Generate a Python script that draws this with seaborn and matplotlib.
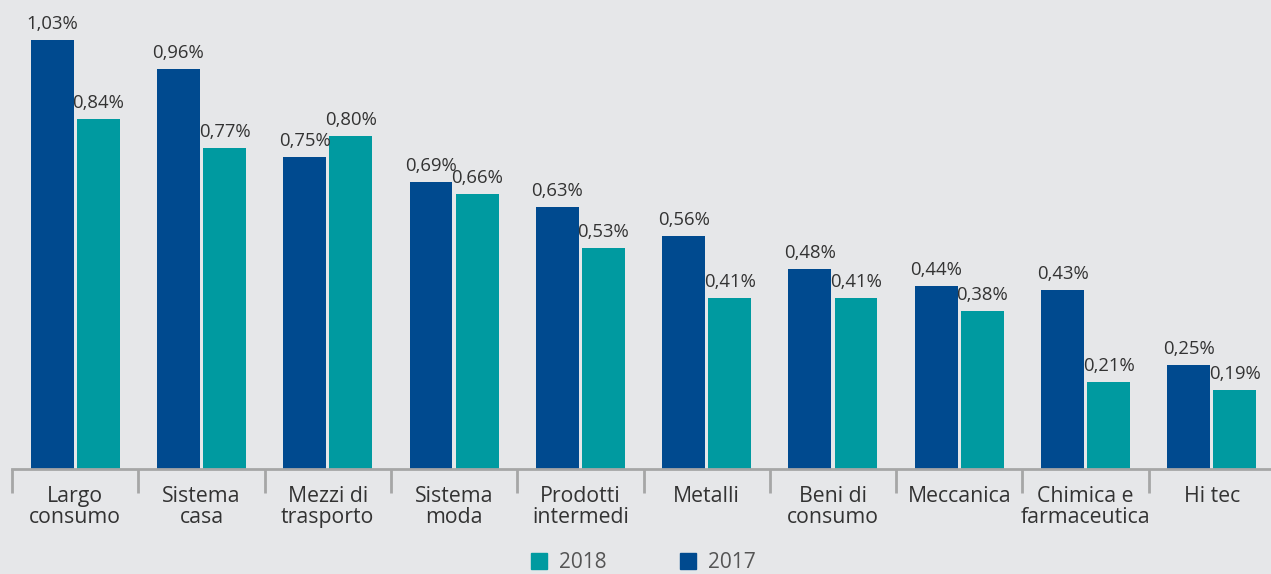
import matplotlib
matplotlib.use("Agg")
import matplotlib.pyplot as plt
import seaborn as sns
import pandas as pd
import numpy as np
from matplotlib.lines import Line2D

categories = ["Largo\nconsumo", "Sistema\ncasa", "Mezzi di\ntrasporto", "Sistema\nmoda",
              "Prodotti\nintermedi", "Metalli", "Beni di\nconsumo", "Meccanica",
              "Chimica e\nfarmaceutica", "Hi tec"]
values_2017 = [1.03, 0.96, 0.75, 0.69, 0.63, 0.56, 0.48, 0.44, 0.43, 0.25]
values_2018 = [0.84, 0.77, 0.80, 0.66, 0.53, 0.41, 0.41, 0.38, 0.21, 0.19]
years = ["2017", "2018"]

BLUE = "#004a8f"
TEAL = "#009aa0"
BG = "#e6e7e9"
AXIS = "#a6a6a6"

df = pd.DataFrame({
    "category": categories * 2,
    "value": values_2017 + values_2018,
    "year": [years[0]] * len(categories) + [years[1]] * len(categories),
})

sns.set_theme(style="white")
plt.rcParams["font.family"] = ["Open Sans", "DejaVu Sans"]

fig = plt.figure(figsize=(12.71, 5.74), dpi=100, facecolor=BG)
ax = fig.add_axes([12 / 1271, 105 / 574, 1263 / 1271, 469 / 574])
ax.set_facecolor(BG)

sns.barplot(data=df, x="category", y="value", hue="year", order=categories,
            hue_order=years, palette={"2017": BLUE, "2018": TEAL},
            width=0.73, gap=0.068, saturation=1, legend=False, ax=ax,
            errorbar=None, linewidth=0, edgecolor="none")

for cont in ax.containers:
    labels = [f"{b.get_height():.2f}%".replace(".", ",") for b in cont]
    ax.bar_label(cont, labels=labels, padding=5, fontsize=13.3, color="#333333")

ax.set_xlim(-0.5, len(categories) - 0.5)
ax.set_ylim(0, 469 / 416.5)
ax.set_xlabel("")
ax.set_ylabel("")
ax.set_yticks([])
for s in ["top", "right", "left"]:
    ax.spines[s].set_visible(False)
ax.spines["bottom"].set_color(AXIS)
ax.spines["bottom"].set_linewidth(2)

ax.set_xticks(np.arange(len(categories)))
ax.set_xticklabels(categories, fontsize=15.3, color="#333333", linespacing=1.02)
ax.tick_params(axis="x", which="major", length=0, pad=12, bottom=True)
ax.set_xticks(np.arange(len(categories) + 1) - 0.5, minor=True)
ax.tick_params(axis="x", which="minor", length=17, width=2, color=AXIS,
               direction="out", bottom=True)

handles = [Line2D([0], [0], marker="s", linestyle="none", markersize=11,
                  markerfacecolor=TEAL, markeredgecolor=TEAL),
           Line2D([0], [0], marker="s", linestyle="none", markersize=11,
                  markerfacecolor=BLUE, markeredgecolor=BLUE)]
leg = fig.legend(handles, ["2018", "2017"], loc="center", ncol=2,
                 bbox_to_anchor=(642 / 1271, 1 - 563 / 574), frameon=False,
                 fontsize=15, handletextpad=0.45, columnspacing=3.4,
                 handlelength=1.0, borderpad=0)
for t in leg.get_texts():
    t.set_color("#555555")

fig.savefig("out.png", dpi=100, facecolor=BG)
